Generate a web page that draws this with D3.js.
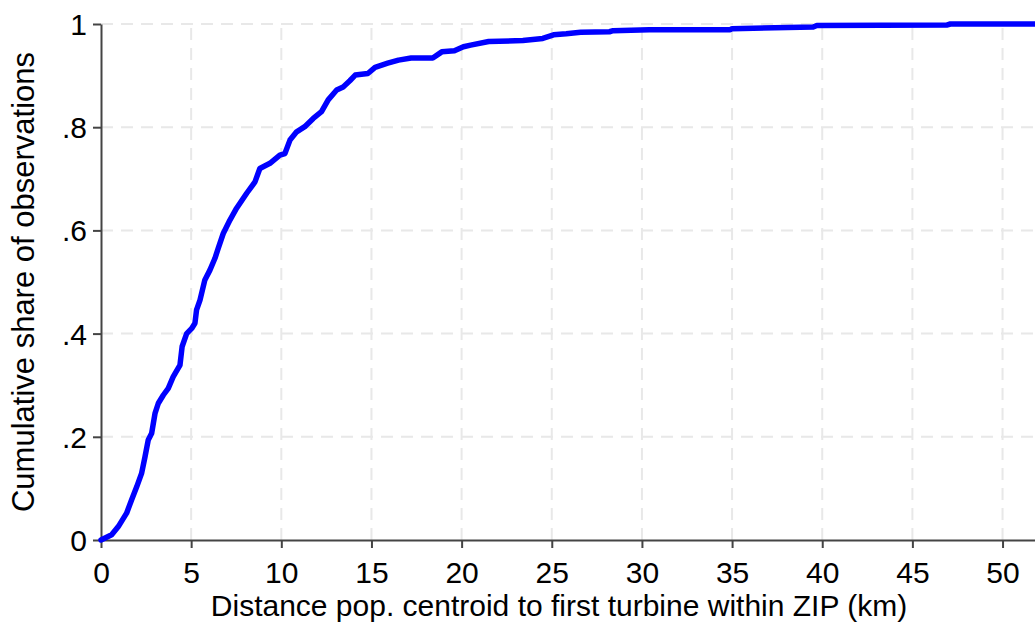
<!DOCTYPE html>
<html>
<head>
<meta charset="utf-8">
<script src="https://cdn.jsdelivr.net/npm/d3@7"></script>
<style>
  html, body { margin: 0; padding: 0; background: #fff; }
  svg { display: block; font-family: "Liberation Sans", Arial, sans-serif; }
</style>
</head>
<body>
<svg id="chart" width="1035" height="624"></svg>
<script>
// Empirical CDF: distance (km) from population centroid to first turbine in ZIP
const distanceKm = [
  0, 0.59, 0.96, 1.42, 1.70, 1.98, 2.25, 2.44, 2.62, 2.81,
  3.00, 3.18, 3.46, 3.73, 4.00, 4.38, 4.50, 4.75, 5.03, 5.21,
  5.30, 5.49, 5.76, 6.04, 6.32, 6.50, 6.78, 7.15, 7.52, 8.08,
  8.54, 8.81, 9.37, 9.92, 10.2, 10.48, 10.85, 11.3, 11.77, 12.23,
  12.6, 13.07, 13.43, 13.8, 14.1, 14.8, 15.2, 15.9, 16.5, 17.2,
  18.4, 18.9, 19.6, 20.1, 20.5, 21.5, 23.4, 24.5, 25.1, 25.8,
  26.6, 28.2, 28.4, 30.4, 34.9, 35.0, 39.5, 39.7, 46.9, 47.1,
  51.8
];
const cumulativeShare = [
  0, 0.010, 0.026, 0.052, 0.078, 0.103, 0.129, 0.161, 0.194, 0.207,
  0.246, 0.265, 0.281, 0.294, 0.316, 0.339, 0.375, 0.400, 0.410, 0.420,
  0.446, 0.465, 0.504, 0.523, 0.546, 0.565, 0.594, 0.620, 0.643, 0.672,
  0.694, 0.720, 0.730, 0.746, 0.749, 0.775, 0.791, 0.801, 0.817, 0.830,
  0.853, 0.872, 0.878, 0.890, 0.901, 0.904, 0.916, 0.924, 0.930, 0.934,
  0.934, 0.946, 0.948, 0.956, 0.959, 0.966, 0.968, 0.972, 0.979, 0.981,
  0.984, 0.985, 0.987, 0.989, 0.989, 0.991, 0.994, 0.997, 0.998, 1.000,
  1.000
];
const xTicks = [0, 5, 10, 15, 20, 25, 30, 35, 40, 45, 50];
const yTicks = [0, 0.2, 0.4, 0.6, 0.8, 1];
const yTickLabels = ["0", ".2", ".4", ".6", ".8", "1"];
const xMax = 51.8;
const xTitle = "Distance pop. centroid to first turbine within ZIP (km)";
const yTitle = "Cumulative share of observations";

const svg = d3.select("#chart");
const plotLeft = 101, plotRight = 1035, plotTop = 24, plotBottom = 540;

const x = d3.scaleLinear().domain([0, xMax]).range([plotLeft, plotRight]);
const y = d3.scaleLinear().domain([0, 1]).range([plotBottom, plotTop]);

// grid
const grid = svg.append("g")
  .attr("stroke", "#e8e8e8").attr("stroke-width", 2)
  .attr("stroke-dasharray", "12,8");
grid.selectAll("line.h").data(yTicks.filter(d => d > 0)).join("line")
  .attr("class", "h")
  .attr("x1", plotLeft).attr("x2", plotRight)
  .attr("y1", d => y(d)).attr("y2", d => y(d));
grid.selectAll("line.v").data(xTicks.filter(d => d > 0)).join("line")
  .attr("class", "v")
  .attr("y1", plotBottom).attr("y2", plotTop)
  .attr("x1", d => x(d)).attr("x2", d => x(d));

// axes
const xAxis = svg.append("g")
  .attr("transform", `translate(0,${plotBottom})`)
  .call(d3.axisBottom(x).tickValues(xTicks).tickSize(8).tickPadding(14).tickSizeOuter(0));
const yAxis = svg.append("g")
  .attr("transform", `translate(${plotLeft},0)`)
  .call(d3.axisLeft(y).tickValues(yTicks).tickSize(8).tickPadding(6).tickSizeOuter(0)
    .tickFormat((d, i) => yTickLabels[i]));

[xAxis, yAxis].forEach(g => {
  g.select(".domain").attr("stroke", "#444").attr("stroke-width", 2);
  g.selectAll(".tick line").attr("stroke", "#444").attr("stroke-width", 2);
  g.selectAll(".tick text")
    .attr("fill", "#000")
    .style("font-family", "'Liberation Sans', Arial, sans-serif")
    .style("font-size", "30px");
});
yAxis.selectAll(".tick text").attr("dy", "0.35em");

// ECDF line
const pts = distanceKm.map((d, i) => [d, cumulativeShare[i]]);
svg.append("path")
  .datum(pts)
  .attr("fill", "none")
  .attr("stroke", "#0000ff")
  .attr("stroke-width", 5.5)
  .attr("stroke-linejoin", "round")
  .attr("stroke-linecap", "round")
  .attr("d", d3.line().x(d => x(d[0])).y(d => y(d[1])));

// titles
svg.append("text")
  .attr("x", 559).attr("y", 616)
  .attr("text-anchor", "middle")
  .style("font-size", "30px")
  .text(xTitle);
svg.append("text")
  .attr("transform", `translate(34,${(plotTop + plotBottom) / 2}) rotate(-90)`)
  .attr("text-anchor", "middle")
  .style("font-size", "31px")
  .text(yTitle);
</script>
</body>
</html>
